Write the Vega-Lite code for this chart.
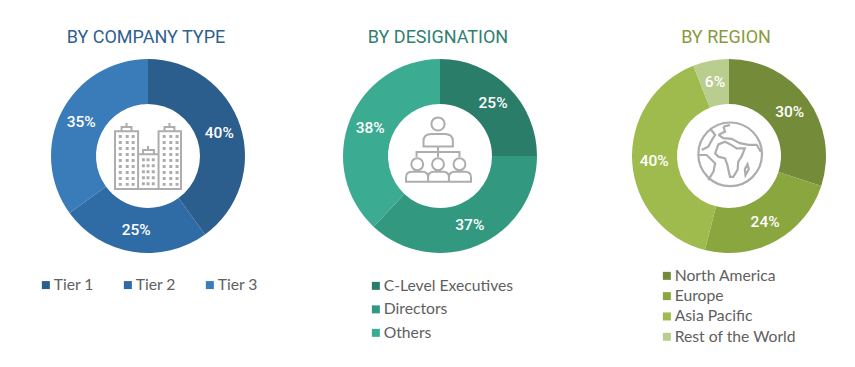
{"$schema":"https://vega.github.io/schema/vega-lite/v6.json","padding":{"left":30,"top":29,"right":0,"bottom":0},"background":"white","spacing":56,"resolve":{"scale":{"color":"independent"},"legend":{"color":"independent"}},"config":{"view":{"stroke":null},"legend":{"orient":"none","title":null,"symbolType":"square","symbolSize":64,"labelFont":"Lato","labelFontSize":15.7,"labelOffset":0,"labelColor":"#606060","labelLimit":300,"symbolStrokeWidth":0},"title":{"font":"Roboto","fontSize":18,"fontWeight":"normal","anchor":"middle","offset":12}},"hconcat":[{"title":{"text":"BY COMPANY TYPE","color":"#2f5f8f","dx":-2},"width":236,"height":194,"layer":[{"data":{"values":[{"segment":"Tier 1","share":40,"label":"40%","rank":1},{"segment":"Tier 2","share":25,"label":"25%","rank":2},{"segment":"Tier 3","share":35,"label":"35%","rank":3}]},"layer":[{"mark":{"type":"arc","innerRadius":52,"outerRadius":97},"encoding":{"theta":{"field":"share","type":"quantitative","stack":true},"order":{"field":"rank"},"color":{"field":"segment","type":"nominal","scale":{"domain":["Tier 1","Tier 2","Tier 3"],"range":["#2b5d8d","#2f6ca5","#3a7cba"]},"legend":{"direction":"horizontal","columns":3,"columnPadding":26,"legendX":8,"legendY":218}}}},{"mark":{"type":"text","radius":75,"font":"Roboto","fontSize":15.5,"fontWeight":500,"color":"white"},"encoding":{"theta":{"field":"share","type":"quantitative","stack":true},"order":{"field":"rank"},"text":{"field":"label"}}}]},{"data":{"values":[{"icon":"buildings"}]},"mark":{"type":"point","filled":false,"size":4356,"stroke":"#adadad","strokeWidth":2,"opacity":1,"shape":"M-1 1V-.75H-.3V1ZM.32 1V-.75H1V1ZM-.3 -.05H.32M-.8 -.75V-.88H-.5V-.75M-.65 -.88V-1M.5 -.75V-.88H.8V-.75M.65 -.88V-1M-.15 -.05V-.18H.18V-.05M0 -.18V-.3M-1 1H1"},"encoding":{}},{"data":{"values":[{"icon":"windows"}]},"mark":{"type":"point","filled":false,"size":4356,"stroke":"#adadad","strokeWidth":3,"strokeDash":[3,3],"opacity":1,"shape":"M-.84 -.64V.9M-.63 -.64V.9M-.45 -.64V.9M.49 -.64V.9M.69 -.64V.9M.88 -.64V.9M-.14 .07V.9M0 .07V.9M.16 .07V.9"},"encoding":{}}]},{"title":{"text":"BY DESIGNATION","color":"#2f8070","dx":-2},"width":236,"height":194,"layer":[{"data":{"values":[{"segment":"C-Level Executives","share":25,"label":"25%","rank":1},{"segment":"Directors","share":37,"label":"37%","rank":2},{"segment":"Others","share":38,"label":"38%","rank":3}]},"layer":[{"mark":{"type":"arc","innerRadius":52,"outerRadius":97},"encoding":{"theta":{"field":"share","type":"quantitative","stack":true},"order":{"field":"rank"},"color":{"field":"segment","type":"nominal","scale":{"domain":["C-Level Executives","Directors","Others"],"range":["#2a7d69","#329880","#3bab92"]},"legend":{"rowPadding":6.5,"legendX":46,"legendY":219}}}},{"mark":{"type":"text","radius":75,"font":"Roboto","fontSize":15.5,"fontWeight":500,"color":"white"},"encoding":{"theta":{"field":"share","type":"quantitative","stack":true},"order":{"field":"rank"},"text":{"field":"label"}}}]},{"data":{"values":[{"icon":"people"}]},"mark":{"type":"point","filled":false,"size":4356,"stroke":"#adadad","strokeWidth":2,"opacity":1,"shape":"M-.26 -.97A.2 .2 0 1 1 .14 -.97A.2 .2 0 1 1 -.26 -.97ZM-.5 -.29V-.45Q-.5 -.67 -.26 -.67H.14Q.39 -.67 .39 -.45V-.29ZM-.06 -.29V.03M-.71 .03V-.12H.59V.03M-.87 .25A.18 .18 0 1 1 -.51 .25A.18 .18 0 1 1 -.87 .25ZM-.24 .25A.18 .18 0 1 1 .12 .25A.18 .18 0 1 1 -.24 .25ZM.41 .25A.18 .18 0 1 1 .77 .25A.18 .18 0 1 1 .41 .25ZM-1.03 .78V.65Q-1.03 .48 -.85 .48H-.53Q-.36 .48 -.36 .65V.78ZM-.36 .78V.65Q-.36 .48 -.18 .48H.1Q.27 .48 .27 .65V.78ZM.27 .78V.65Q.27 .48 .45 .48H.77Q.94 .48 .94 .65V.78Z"},"encoding":{}}]},{"title":{"text":"BY REGION","color":"#8a9a40","dx":-3},"width":230,"height":194,"layer":[{"data":{"values":[{"segment":"North America","share":30,"label":"30%","rank":1},{"segment":"Europe","share":24,"label":"24%","rank":2},{"segment":"Asia Pacific","share":40,"label":"40%","rank":3},{"segment":"Rest of the World","share":6,"label":"6%","rank":4}]},"layer":[{"mark":{"type":"arc","innerRadius":52,"outerRadius":97},"encoding":{"theta":{"field":"share","type":"quantitative","stack":true},"order":{"field":"rank"},"color":{"field":"segment","type":"nominal","scale":{"domain":["North America","Europe","Asia Pacific","Rest of the World"],"range":["#748b3a","#8aa63f","#9fbb4d","#b9cd8f"]},"legend":{"rowPadding":3.3,"legendX":45,"legendY":209}}}},{"mark":{"type":"text","radius":75,"font":"Roboto","fontSize":15.5,"fontWeight":500,"color":"white"},"encoding":{"theta":{"field":"share","type":"quantitative","stack":true},"order":{"field":"rank"},"text":{"field":"label"}}}]},{"data":{"values":[{"icon":"globe"}]},"mark":{"type":"point","filled":false,"size":4356,"stroke":"#adadad","strokeWidth":2.2,"opacity":1,"shape":"M-.93 -.05A.96 .96 0 1 1 1 -.05A.96 .96 0 1 1 -.93 -.05ZM-.42 -.08L-.32 -.35L-.12 -.43L.08 -.33L.23 -.23L.48 -.23L.38 .02L.28 .17L.26 .42L.13 .63L.03 .63L-.05 .27L-.12 .07L-.32 .02ZM.5 .58L.48 .4L.56 .25L.6 .4ZM-.32 -.64L-.17 -.54L.08 -.52L.33 -.39L.59 -.34L.84 -.34L.96 -.13M-.58 -.84L-.42 -.64L-.52 -.48L-.63 -.28L-.83 -.18M-.17 -.89L.03 -.94M-.17 -.89L-.12 -.74L-.32 -.64M-.93 -.03L-.68 -.03L-.42 .22L-.47 .47L-.63 .73"},"encoding":{}}]}]}
